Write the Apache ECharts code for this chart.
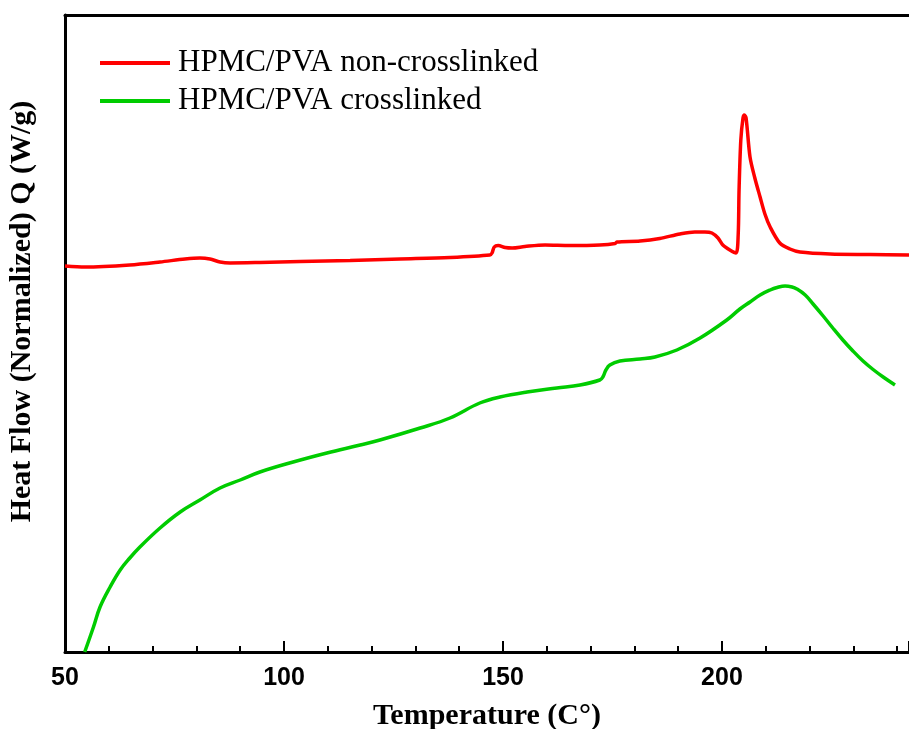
<!DOCTYPE html>
<html>
<head>
<meta charset="utf-8">
<script src="https://cdn.jsdelivr.net/npm/echarts@6/dist/echarts.min.js"></script>
<style>
html,body{margin:0;padding:0;background:#fff;}
#chart{width:909px;height:729px;}
</style>
</head>
<body>
<div id="chart"></div>
<script>
// Temperature (°C) and heat flow (normalized, arbitrary units)
const seriesNames = ['HPMC/PVA non-crosslinked', 'HPMC/PVA crosslinked'];
const xTicks = [50, 100, 150, 200];

const tempNonCross = [50.0, 54.6, 64.8, 71.7, 77.4, 80.8, 83.1, 85.4, 87.7, 94.5, 103.7, 115.1, 126.5, 137.9, 147.0, 147.5, 148.0, 148.9, 150.5, 152.1, 155.0, 159.6, 165.3, 172.1, 175.6, 176.0, 181.3, 185.8, 190.4, 193.8, 196.1, 197.7, 199.1, 200.2, 201.8, 203.2, 203.7, 203.9, 204.3, 204.8, 205.1, 205.5, 206.4, 207.5, 208.7, 209.8, 211.0, 213.2, 215.5, 217.8, 224.7, 233.8, 242.7];
const heatNonCross = [38.6, 38.5, 38.7, 39.0, 39.3, 39.4, 39.3, 39.0, 38.9, 38.95, 39.05, 39.15, 39.3, 39.45, 39.7, 39.9, 40.5, 40.65, 40.45, 40.4, 40.55, 40.7, 40.65, 40.7, 40.85, 41.0, 41.1, 41.35, 41.8, 42.0, 42.0, 41.9, 41.4, 40.7, 40.2, 39.9, 41.7, 46.2, 51.2, 53.4, 53.7, 53.4, 49.5, 47.4, 45.5, 43.8, 42.5, 40.9, 40.3, 40.0, 39.8, 39.75, 39.7];

const tempCross = [54.5, 56.5, 58.0, 60.3, 62.6, 64.8, 67.1, 71.7, 76.3, 80.8, 85.4, 90.0, 94.5, 102.1, 109.8, 117.4, 121.9, 131.1, 137.9, 144.7, 149.3, 155.5, 162.3, 167.6, 172.1, 172.8, 173.5, 174.4, 176.7, 181.3, 184.7, 189.7, 195.0, 201.1, 204.1, 206.4, 208.7, 211.0, 212.6, 214.4, 216.0, 217.1, 219.0, 220.8, 223.1, 225.3, 227.6, 229.9, 232.2, 234.5, 236.8, 239.5];
const heatCross = [0.0, 2.5, 4.5, 6.5, 8.2, 9.4, 10.5, 12.4, 14.0, 15.2, 16.4, 17.2, 18.0, 19.0, 19.9, 20.7, 21.2, 22.4, 23.4, 24.9, 25.5, 26.0, 26.4, 26.7, 27.2, 27.5, 28.2, 28.7, 29.1, 29.3, 29.5, 30.2, 31.4, 33.2, 34.3, 35.0, 35.7, 36.2, 36.45, 36.6, 36.5, 36.3, 35.7, 34.8, 33.6, 32.4, 31.2, 30.1, 29.1, 28.25, 27.5, 26.7];

const pairs = (xs, ys) => xs.map((x, i) => [x, ys[i]]);

const chart = echarts.init(document.getElementById('chart'), null, {renderer: 'canvas'});
const xMin = 50, xMax = 242.7;
chart.setOption({
  animation: false,
  backgroundColor: '#ffffff',
  grid: {left: 65, right: 0, top: 15, bottom: 77, containLabel: false, outerBoundsMode: 'none'},
  legend: {
    orient: 'vertical',
    left: 95,
    top: 42,
    icon: 'rect',
    itemWidth: 70,
    itemHeight: 4,
    itemGap: 6,
    data: seriesNames,
    textStyle: {fontFamily: 'Liberation Serif', fontSize: 31, color: '#000', lineHeight: 32, padding: [0, 0, 0, 3]}
  },
  xAxis: [{
    type: 'value',
    position: 'bottom',
    min: xMin, max: xMax, interval: 50,
    name: 'Temperature (C°)',
    nameLocation: 'middle',
    nameGap: 49,
    nameTextStyle: {fontFamily: 'Liberation Serif', fontWeight: 'bold', fontSize: 30, color: '#000'},
    axisLine: {show: true, onZero: false, lineStyle: {color: '#000', width: 3}},
    axisTick: {show: true, inside: true, length: 11, lineStyle: {color: '#000', width: 2}},
    minorTick: {show: true, splitNumber: 5, length: 6, lineStyle: {color: '#000', width: 2}},
    axisLabel: {
      margin: 14, fontFamily: 'Liberation Sans', fontWeight: 'bold', fontSize: 25, color: '#000',
      showMaxLabel: false,
      formatter: v => xTicks.includes(v) ? String(v) : ''
    },
    splitLine: {show: false}
  }, {
    type: 'value',
    position: 'top',
    min: xMin, max: xMax,
    axisLine: {show: true, onZero: false, lineStyle: {color: '#000', width: 3}},
    axisTick: {show: false},
    axisLabel: {show: false},
    splitLine: {show: false}
  }],
  yAxis: {
    type: 'value',
    min: 0, max: 63.7,
    name: 'Heat Flow (Normalized) Q (W/g)',
    nameLocation: 'middle',
    nameGap: 28,
    nameTextStyle: {fontFamily: 'Liberation Serif', fontWeight: 'bold', fontSize: 30, color: '#000', padding: [0, 0, 0, 44]},
    axisLine: {show: true, onZero: false, lineStyle: {color: '#000', width: 3}},
    axisTick: {show: false},
    axisLabel: {show: false},
    splitLine: {show: false}
  },
  series: [{
    name: seriesNames[0],
    type: 'line',
    data: pairs(tempNonCross, heatNonCross),
    showSymbol: false, symbol: 'none',
    smooth: 0.3,
    lineStyle: {color: '#ff0000', width: 3.5},
    itemStyle: {color: '#ff0000'}
  }, {
    name: seriesNames[1],
    type: 'line',
    data: pairs(tempCross, heatCross),
    showSymbol: false, symbol: 'none',
    smooth: 0.4,
    lineStyle: {color: '#00cc00', width: 3.5},
    itemStyle: {color: '#00cc00'}
  }]
});
</script>
</body>
</html>
